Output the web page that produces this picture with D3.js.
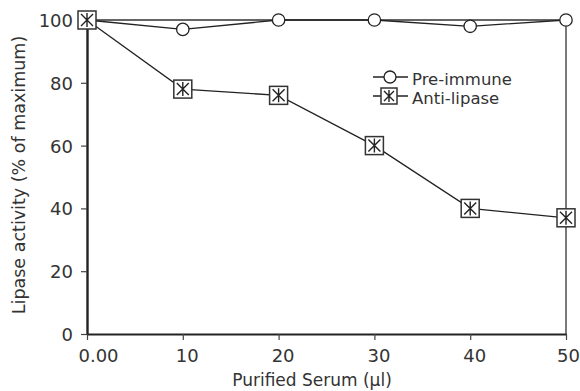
<!DOCTYPE html>
<html>
<head>
<meta charset="utf-8">
<script src="https://cdn.jsdelivr.net/npm/d3@7"></script>
<style>
  body { margin: 0; background: #fff; }
  text { font-family: "DejaVu Sans", sans-serif; fill: #333; }
</style>
</head>
<body>
<div id="chart"></div>
<script>
// data
const serum = [0, 10, 20, 30, 40, 50];
const preImmune = [100, 97, 100, 100, 98, 100];
const antiLipase = [100, 78, 76, 60, 40, 37];
const xTicks = [0, 10, 20, 30, 40, 50];
const yTicks = [0, 20, 40, 60, 80, 100];

const width = 580, height = 391;
const margin = {top: 20, right: 14, bottom: 57, left: 87};
const w = width - margin.left - margin.right;
const h = height - margin.top - margin.bottom;

const svg = d3.select("#chart").append("svg")
    .attr("width", width)
    .attr("height", height);

const g = svg.append("g")
    .attr("transform", "translate(" + margin.left + "," + margin.top + ")");

const x = d3.scaleLinear().domain([0, 50]).range([0, w]);
const y = d3.scaleLinear().domain([0, 100]).range([h, 0]);

// frame top and right
g.append("path")
    .attr("d", "M0,0H" + w + "V" + h)
    .attr("fill", "none")
    .attr("stroke", "#333")
    .attr("stroke-width", 1.3);

// x axis
const xAxis = g.append("g")
    .attr("transform", "translate(0," + h + ")")
    .call(d3.axisBottom(x).tickValues(xTicks).tickSize(6).tickSizeOuter(0)
        .tickFormat(d => d === 0 ? "0.00" : d));
xAxis.select(".domain").attr("stroke", "#222").attr("stroke-width", 2.2);
xAxis.selectAll(".tick line").attr("stroke", "#444").attr("stroke-width", 1.2);
xAxis.selectAll("text").attr("font-size", 18).attr("dy", "1.05em").attr("fill", "#333")
    .attr("dx", d => d === 0 ? 11 : (d === 50 ? 2 : 4));

// y axis
const yAxis = g.append("g")
    .call(d3.axisLeft(y).tickValues(yTicks).tickSize(6).tickSizeOuter(0));
yAxis.select(".domain").attr("stroke", "#222").attr("stroke-width", 2.4);
yAxis.selectAll(".tick line").attr("stroke", "#444").attr("stroke-width", 1.2);
yAxis.selectAll("text").attr("font-size", 18).attr("x", -14).attr("dy", "0.36em").attr("fill", "#333");

// axis titles
svg.append("text")
    .attr("x", 312)
    .attr("y", 386)
    .attr("text-anchor", "middle")
    .attr("font-size", 17)
    .text("Purified Serum (µl)");

svg.append("text")
    .attr("transform", "translate(25,175) rotate(-90)")
    .attr("text-anchor", "middle")
    .attr("font-size", 17.5)
    .text("Lipase activity (% of maximum)");

const line = d3.line()
    .x((d, i) => x(serum[i]))
    .y(d => y(d));

// pre-immune series
g.append("path")
    .attr("d", line(preImmune))
    .attr("fill", "none")
    .attr("stroke", "#222")
    .attr("stroke-width", 1.3);

// anti-lipase series
g.append("path")
    .attr("d", line(antiLipase))
    .attr("fill", "none")
    .attr("stroke", "#222")
    .attr("stroke-width", 1.3);

g.selectAll(".circ")
    .data(preImmune)
    .join("circle")
    .attr("class", "circ")
    .attr("cx", (d, i) => x(serum[i]))
    .attr("cy", d => y(d))
    .attr("r", 6.2)
    .attr("fill", "#fff")
    .attr("stroke", "#222")
    .attr("stroke-width", 1.3);

function squareMarker(sel, s) {
    sel.append("rect")
        .attr("x", -s / 2).attr("y", -s / 2)
        .attr("width", s).attr("height", s)
        .attr("fill", "#fff")
        .attr("stroke", "#333")
        .attr("stroke-width", 1.5);
    const a = s / 2 - 3;
    sel.append("path")
        .attr("d", "M" + (-a) + "," + (-a) + "L" + a + "," + a +
                   "M" + a + "," + (-a) + "L" + (-a) + "," + a +
                   "M0," + (-a - 1) + "V" + (a + 1))
        .attr("stroke", "#222")
        .attr("stroke-width", 1.4);
}

g.selectAll(".sq")
    .data(antiLipase)
    .join("g")
    .attr("class", "sq")
    .attr("transform", (d, i) => "translate(" + x(serum[i]) + "," + y(d) + ")")
    .each(function() { squareMarker(d3.select(this), 18); });

// legend
const legend = svg.append("g").attr("transform", "translate(373,77)");
legend.append("line").attr("x1", 0).attr("x2", 35).attr("y1", 0).attr("y2", 0)
    .attr("stroke", "#222").attr("stroke-width", 1.3);
legend.append("circle").attr("cx", 17).attr("cy", 0).attr("r", 6)
    .attr("fill", "#fff").attr("stroke", "#222").attr("stroke-width", 1.3);
legend.append("text").attr("x", 39).attr("y", 8)
    .attr("font-size", 16.5).text("Pre-immune");

const l2 = legend.append("g").attr("transform", "translate(0,19)");
l2.append("line").attr("x1", 0).attr("x2", 35).attr("y1", 0).attr("y2", 0)
    .attr("stroke", "#222").attr("stroke-width", 1.3);
const lm = l2.append("g").attr("transform", "translate(16,0)");
squareMarker(lm, 16);
l2.append("text").attr("x", 39).attr("y", 8)
    .attr("font-size", 16.5).text("Anti-lipase");
</script>
</body>
</html>
